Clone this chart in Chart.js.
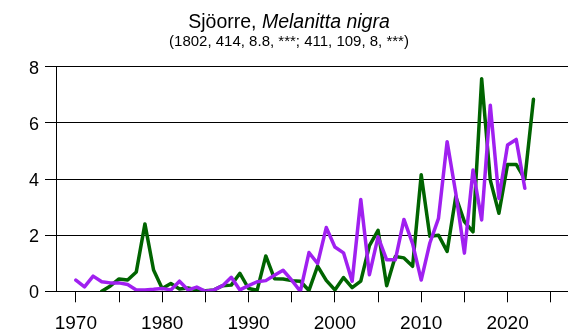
<!DOCTYPE html>
<html>
<head>
<meta charset="utf-8">
<script src="https://cdn.jsdelivr.net/npm/chart.js@4/dist/chart.umd.min.js"></script>
<style>
  html, body { margin: 0; padding: 0; background: #fff; }
  canvas { display: block; }
</style>
</head>
<body>
<canvas id="c" width="578" height="334"></canvas>
<script>
// Yearly index values, 1970-2023
const years = [];
for (let y = 1970; y <= 2023; y++) years.push(y);

const greenSeries = [
  null, null, null, 0, 0.19, 0.44, 0.40, 0.69, 2.40, 0.76,
  0.10, 0.28, 0.08, 0.12, 0.05, 0.02, 0.05, 0.20, 0.22, 0.64,
  0.10, 0.04, 1.26, 0.45, 0.44, 0.38, 0.36, 0.03, 0.90, 0.39,
  0.05, 0.49, 0.13, 0.36, 1.63, 2.17, 0.20, 1.24, 1.19, 0.89,
  4.15, 1.96, 2.00, 1.42, 3.37, 2.48, 2.12, 7.57, 3.96, 2.78,
  4.52, 4.52, 4.00, 6.84
];

const purpleSeries = [
  0.40, 0.16, 0.54, 0.34, 0.30, 0.30, 0.24, 0.05, 0.05, 0.07,
  0.10, 0.05, 0.36, 0.05, 0.15, 0.00, 0.05, 0.20, 0.50, 0.05,
  0.20, 0.34, 0.38, 0.57, 0.75, 0.40, 0.00, 1.38, 0.99, 2.27,
  1.58, 1.37, 0.36, 3.27, 0.59, 1.94, 1.12, 1.12, 2.56, 1.70,
  0.40, 1.72, 2.60, 5.33, 3.50, 1.36, 4.32, 2.54, 6.63, 3.31,
  5.21, 5.41, 3.67, null
];

const xTickValues = [1970, 1975, 1980, 1985, 1990, 1995, 2000, 2005, 2010, 2015, 2020, 2025];
const yTickValues = [0, 2, 4, 6, 8];

const titleMain = 'Sjöorre, ';
const titleLatin = 'Melanitta nigra';
const subtitleText = '(1802, 414, 8.8, ***; 411, 109, 8, ***)';

const FONT = '"Liberation Sans", Arial, sans-serif';

const toPoints = (vals) => years.map((y, i) => ({ x: y, y: vals[i] }));

// Two-part heading: common name upright, scientific name in italics
const headingPlugin = {
  id: 'heading',
  afterDraw(chart) {
    const ctx = chart.ctx;
    const cx = chart.width / 2;
    ctx.save();
    ctx.fillStyle = '#000';
    ctx.textBaseline = 'alphabetic';
    ctx.textAlign = 'left';
    const f1 = '19.5px ' + FONT;
    const f2 = 'italic 19.5px ' + FONT;
    ctx.font = f1;
    const w1 = ctx.measureText(titleMain).width;
    ctx.font = f2;
    const w2 = ctx.measureText(titleLatin).width;
    const x0 = cx - (w1 + w2) / 2;
    ctx.font = f1;
    ctx.fillText(titleMain, x0, 28);
    ctx.font = f2;
    ctx.fillText(titleLatin, x0 + w1, 28);
    ctx.font = '15px ' + FONT;
    ctx.textAlign = 'center';
    ctx.fillText(subtitleText, cx, 46);
    ctx.restore();
  }
};

new Chart(document.getElementById('c'), {
  type: 'line',
  data: {
    datasets: [
      {
        data: toPoints(greenSeries),
        borderColor: '#006400',
        borderWidth: 3.5,
        pointRadius: 0,
        tension: 0,
        spanGaps: false,
        borderJoinStyle: 'round',
        borderCapStyle: 'round',
        order: 2
      },
      {
        data: toPoints(purpleSeries),
        borderColor: '#A020F0',
        borderWidth: 3.5,
        pointRadius: 0,
        tension: 0,
        spanGaps: false,
        borderJoinStyle: 'round',
        borderCapStyle: 'round',
        order: 1
      }
    ]
  },
  options: {
    responsive: false,
    animation: false,
    devicePixelRatio: 1,
    layout: { padding: { top: 66.7, right: 10, left: 0, bottom: 0 } },
    plugins: {
      legend: { display: false },
      title: { display: false },
      tooltip: { enabled: false }
    },
    scales: {
      x: {
        type: 'linear',
        min: 1967.7,
        max: 2027,
        afterBuildTicks: (s) => { s.ticks = xTickValues.map(v => ({ value: v })); },
        afterFit: (s) => { s.height = 42.7; },
        border: { display: false },
        grid: {
          drawOnChartArea: false,
          drawTicks: true,
          tickLength: 11,
          color: '#000',
          lineWidth: 1
        },
        ticks: {
          autoSkip: false,
          maxRotation: 0,
          padding: 10,
          color: '#000',
          font: { family: FONT, size: 19 },
          callback: (v) => (v % 10 === 0 ? String(v) : '')
        }
      },
      y: {
        min: 0,
        max: 8,
        afterBuildTicks: (s) => { s.ticks = yTickValues.map(v => ({ value: v })); },
        afterFit: (s) => { s.width = 56; },
        border: { display: true, color: '#000', width: 1 },
        grid: {
          drawOnChartArea: true,
          drawTicks: true,
          tickLength: 11,
          color: '#000',
          lineWidth: 1
        },
        ticks: {
          padding: 6,
          labelOffset: 2,
          color: '#000',
          font: { family: FONT, size: 18 }
        }
      }
    }
  },
  plugins: [headingPlugin]
});
</script>
</body>
</html>
